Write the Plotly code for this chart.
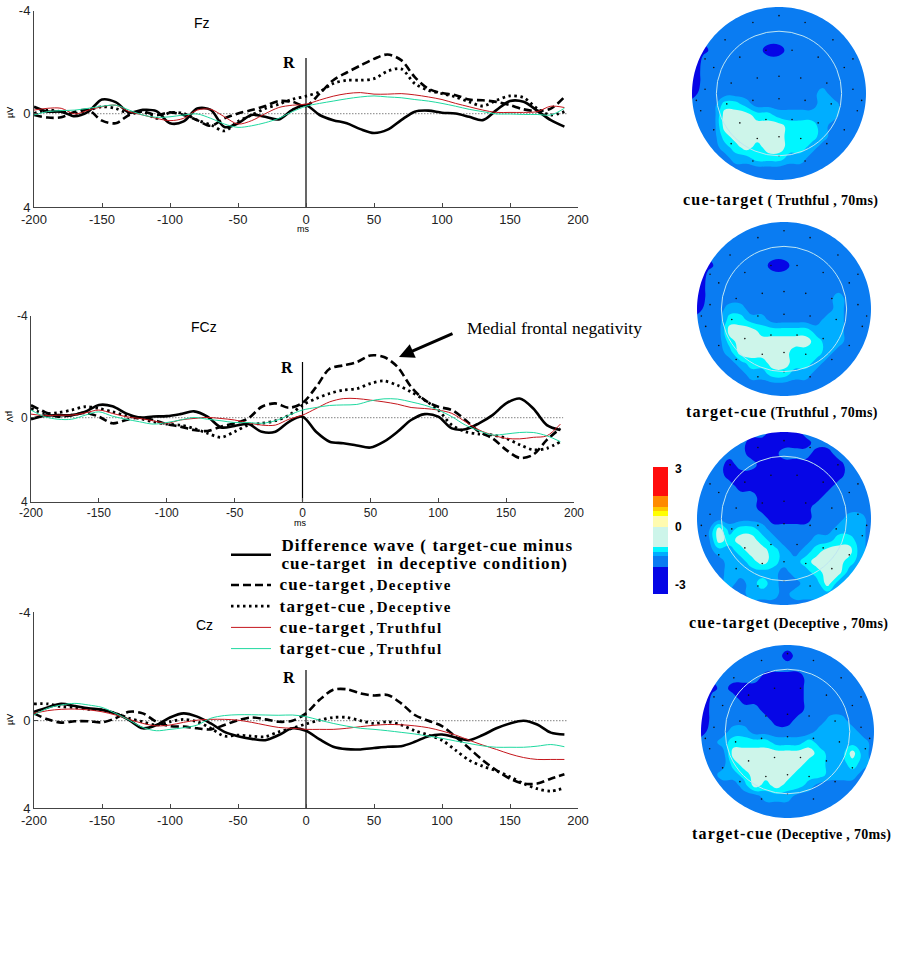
import numpy as np
import plotly.graph_objects as go

W, H = 920, 961
ms = list(range(-200, 200, 10))
x_ticks = [-200, -150, -100, -50, 0, 50, 100, 150, 200]
x_labels = ["-200", "-150", "-100", "-50", "0", "50", "100", "150", "200"]

# Fz
fz_diff = [-.27,-.08,-.08,.10,-.08,-.55,-.45,-.04,-.15,-.10,.37,.30,-.20,-.15,.52,.37,.05,.12,.22,-.15,-.33,.05,.25,.37,.60,.75,.62,.25,-.08,-.12,-.04,-.01,.12,.25,-.14,-.49,-.46,-.12,.25,.50]
fz_ct_dec = [.05,.15,.14,-.08,-.14,.27,.37,.05,-.08,.05,-.05,.05,.25,.47,.18,-.01,-.14,-.30,-.49,-.46,-.30,-.78,-1.30,-1.60,-1.87,-2.13,-2.30,-2.08,-1.42,-.97,-.80,-.72,-.55,-.52,-.46,-.33,-.17,-.10,-.20,-.65]
fz_tc_dec = [-.01,-.14,-.08,-.01,-.14,-.27,-.20,-.01,-.08,.18,-.04,-.01,.25,.43,.67,.30,.05,-.20,-.37,-.56,-.68,-.85,-1.17,-1.30,-1.30,-1.36,-1.65,-1.74,-1.17,-.91,-.78,-.65,-.46,-.30,-.52,-.69,-.62,-.20,.05,-.08]
fz_ct_tru = [-.14,-.21,-.21,.01,-.14,-.27,-.33,-.08,.05,.18,.27,.18,-.14,-.17,.12,.40,.27,0,-.24,-.33,-.37,-.53,-.68,-.78,-.82,-.76,-.76,-.78,-.73,-.65,-.55,-.40,-.27,-.14,-.05,-.05,-.05,-.08,-.29,-.24]
fz_tc_tru = [.05,-.08,-.12,-.14,-.21,-.29,-.33,-.14,.05,.14,.12,.05,.01,.18,.40,.53,.47,.35,.18,-.08,-.29,-.40,-.49,-.58,-.65,-.69,-.65,-.62,-.55,-.49,-.40,-.29,-.17,-.08,.01,.01,.03,.03,.05,-.21]
# FCz
fcz_diff = [.06,-.08,-.10,-.10,-.23,-.50,-.45,-.17,-.01,-.05,-.06,-.14,-.25,-.04,.38,.32,.25,.55,.55,.16,-.04,.55,.94,1.0,1.09,1.17,.94,.55,.09,-.14,-.04,.42,.45,.22,-.10,-.56,-.75,-.36,.29,.48]
fcz_ct_dec = [-.49,-.23,-.04,-.10,-.19,-.04,.22,.09,-.01,.09,.25,.35,.48,.52,.35,.22,.03,-.43,-.56,-.39,-.58,-1.20,-1.92,-2.05,-2.18,-2.44,-2.38,-1.99,-1.21,-.69,-.43,-.30,.09,.55,.81,1.26,1.58,1.45,.87,.42]
fcz_tc_dec = [-.36,-.17,-.20,-.30,-.43,-.36,-.23,-.08,.03,.16,.25,.29,.42,.61,.77,.55,.29,.22,.12,-.10,-.49,-.75,-.95,-1.08,-1.14,-1.34,-1.44,-1.27,-1.01,-.69,-.30,.29,.55,.64,.68,.81,1.06,1.26,1.20,.94]
fcz_ct_tru = [-.14,-.08,-.10,-.10,-.19,-.30,-.17,-.04,.03,.12,.22,.09,.03,-.01,.03,.09,.20,.29,.29,.06,-.10,-.36,-.62,-.75,-.75,-.69,-.62,-.53,-.40,-.36,-.30,-.17,.16,.48,.68,.81,.83,.77,.71,.25]
fcz_tc_tru = [-.30,-.04,.06,.06,-.10,-.23,-.06,.06,.16,.25,.19,.09,-.01,.06,.12,.19,.19,.22,.12,-.10,-.30,-.40,-.48,-.50,-.52,-.66,-.74,-.73,-.62,-.49,-.30,-.04,.29,.51,.68,.64,.58,.58,.71,.94]
# Cz
cz_diff = [-.33,-.49,-.62,-.54,-.46,-.40,-.27,-.02,.28,.16,-.12,-.27,-.15,.10,.41,.57,.67,.72,.53,.28,.37,.69,.96,1.05,1.06,1.01,.96,.94,.78,.57,.51,.62,.72,.53,.28,.10,0,.14,.44,.51]
cz_ct_dec = [-.27,-.05,.07,.02,.02,.06,-.09,-.33,-.27,.04,.20,.22,.28,.32,.16,-.02,-.12,-.05,.04,0,-.27,-.77,-1.14,-1.16,-1.01,-.93,-.95,-.64,-.21,0,.20,.59,1.02,1.46,1.83,2.14,2.32,2.32,2.14,1.98]
cz_tc_dec = [-.62,-.62,-.52,-.49,-.42,-.40,-.27,-.09,.04,.16,.04,-.05,.04,.28,.57,.53,.57,.59,.41,.28,.12,-.02,-.12,-.12,0,.10,.04,.16,.37,.53,.72,1.09,1.46,1.68,1.85,2.07,2.32,2.51,2.60,2.48]
cz_ct_tru = [-.27,-.37,-.42,-.43,-.40,-.33,-.21,-.05,.10,.19,.16,.06,-.02,-.05,-.05,-.02,.06,.16,.25,.28,.32,.32,.32,.28,.22,.17,.14,.15,.19,.26,.38,.53,.72,.90,1.06,1.23,1.36,1.43,1.43,1.43]
cz_tc_tru = [-.21,-.46,-.58,-.64,-.58,-.49,-.27,-.02,.25,.37,.32,.26,.16,-.09,-.19,-.22,-.22,-.21,-.20,-.21,-.15,-.02,.10,.20,.28,.32,.37,.43,.49,.57,.65,.75,.84,.93,.98,.98,.98,.94,.88,.96]

# scalp maps: each character is the level of one sample on a 17x17 scalp grid
# (a, b: deepest levels at the rim; 0-4: dark blue to pale)
level_value = {"a": -2, "b": -1, "0": 0, "1": 1, "2": 2, "3": 3, "4": 4}
map_ct_tru = ["11111111111111111","11111111111111111","11111111111111211","11111111111111121",
 "10111110011111111","a1111111111111111","b1111111111111111","b1111111111111111",
 "01111111111121111","11133211111122111","11144433222222111","11144444433321111",
 "11134444433321111","11123434433211111","11112233322111111","11111111111111111","11111111111111111"]
map_tc_tru = ["11111111111111111","11111111111111111","11111111111111211","11111111111111121",
 "10111110011111111","a1111111111111111","b1111111111111111","b1111111111112111",
 "01122111111112111","11133221111122111","11144433333222111","11134444444322111",
 "11124444433321111","11112334433211111","11111223322111111","11111111111111111","11111111111111111"]
map_ct_dec = ["11111110001111111","11111000000111111","11111000111001111","11101100000000111",
 "11100000000000111","11110000000001111","11111100000011111","11111100000111111",
 "11111110000111221","11423321111112221","11434432111223321","11223443212344421",
 "11122343223444321","11122222122344211","11121232112242111","11111222122221111","11111111111111111"]
map_tc_dec = ["11111111111111111","11111111011111111","11111111111111111","11111100001111111",
 "10100000001111111","a1110000001111111","b1111100001111111","b1111110011122111",
 "01122111111222211","11233332223222221","11144444444322421","11134444443322321",
 "11223444433322211","11112434332111111","11111122211111111","11111111111111111","11111111111111111"]
grid_pos = [-1,-.875,-.75,-.625,-.5,-.375,-.25,-.125,0,.125,.25,.375,.5,.625,.75,.875,1]

# colour scale: band edges (µV, from the -3 end up) and their colours
band_edges = [-3.48, -2.1, -1.5, -1.29, -1.03, 0, .52, .81, 1.03, 1.59, 3.07]
band_cols = ["#0606e6", "#0a7cf2", "#00aeff", "#00f6ff", "#cdf5ea", "#fffbb0", "#ffff00", "#ffc800", "#ff8a00", "#ff0c0c"]

# electrode dots, in scalp units
elec_x = [-.62,-.3,0,.3,.62,-.75,-.45,-.15,.15,.45,.75,-.85,-.55,-.25,0,.25,.55,.85,-.9,-.6,-.3,0,.3,.6,.9,-.75,-.45,-.15,.15,.45,.75,-.55,-.25,0,.25,.55,-.3,0,.3,-.95,.95,-.85,.85]
elec_y = [-.62,-.82,-.9,-.82,-.62,-.3,-.42,-.5,-.5,-.42,-.3,-.05,-.12,-.18,-.2,-.18,-.12,-.05,.2,.12,.08,.06,.08,.12,.2,.42,.34,.3,.3,.34,.42,.58,.52,.5,.52,.58,.78,.72,.78,.08,.08,-.4,-.4]

# scale of each waveform panel: px of left, right, top (-4), zero, bottom
panels = [
    dict(name="Fz", l=34, r=578, t=10.7, z=113.7, b=207, rtop=58, tick=13,
         data=[fz_diff, fz_ct_dec, fz_tc_dec, fz_ct_tru, fz_tc_tru]),
    dict(name="FCz", l=31, r=574, t=315.7, z=417.7, b=501.7, rtop=362, tick=12,
         data=[fcz_diff, fcz_ct_dec, fcz_tc_dec, fcz_ct_tru, fcz_tc_tru]),
    dict(name="Cz", l=34, r=578, t=612.3, z=720.7, b=808, rtop=670, tick=13,
         data=[cz_diff, cz_ct_dec, cz_tc_dec, cz_ct_tru, cz_tc_tru]),
]
# px box of each scalp map
maps = [
    dict(z=map_ct_tru, l=692, r=866, t=7, b=180),
    dict(z=map_tc_tru, l=697, r=871, t=222, b=396),
    dict(z=map_ct_dec, l=697, r=871, t=432, b=605),
    dict(z=map_tc_dec, l=701, r=874, t=645, b=818),
]
ring = 0.72


def px(x):
    return x / W


def py(y):
    return 1 - y / H


def leg(a, b):
    return (f'<b>&nbsp;<span style="font-size:17px;letter-spacing:1.3px">{a}</span> , '
            f'<span style="font-size:15px;letter-spacing:1.4px">{b}</span></b>')


styles = [
    dict(name='<b><span style="font-size:17px;letter-spacing:1.15px">&nbsp;Difference wave ( target-cue minus<br>'
              '&nbsp;cue-target  in deceptive condition)</span></b>',
         line=dict(color="black", width=2.6)),
    dict(name=leg("cue-target", "Deceptive"), line=dict(color="black", width=2.6, dash="8px,4px")),
    dict(name=leg("target-cue", "Deceptive"), line=dict(color="black", width=2.8, dash="2.5px,3.5px")),
    dict(name=leg("cue-target", "Truthful"), line=dict(color="#c4161c", width=1)),
    dict(name=leg("target-cue", "Truthful"), line=dict(color="#1fd9a0", width=1)),
]

fig = go.Figure()
layout = {}
shapes = []
annotations = []

for i, p in enumerate(panels):
    n = "" if i == 0 else str(i + 1)
    unit = (p["z"] - p["t"]) / 4
    bottom = (p["b"] - p["z"]) / unit
    layout[f"xaxis{n}"] = dict(domain=[px(p["l"]), px(p["r"])], range=[-200, 200], anchor=f"y{n}",
                               tickvals=x_ticks, ticktext=x_labels, ticks="inside", ticklen=4, tickcolor="#444",
                               showline=True, linecolor="#444", linewidth=1, showgrid=False, zeroline=False,
                               tickfont=dict(family="Liberation Sans", size=p["tick"], color="#222"))
    layout[f"yaxis{n}"] = dict(domain=[py(p["b"]), py(p["t"])], range=[bottom, -4], anchor=f"x{n}",
                               tickvals=[-4, 0, bottom], ticktext=["-4", "0", "4"], ticks="inside", ticklen=4,
                               tickcolor="#444", showline=True, linecolor="#444", linewidth=1, showgrid=False,
                               zeroline=False, tickfont=dict(family="Liberation Sans", size=p["tick"], color="#222"))
    fig.add_trace(go.Scatter(x=[-200, 192], y=[0, 0], mode="lines", showlegend=False, hoverinfo="skip",
                             line=dict(color="#9a9a9a", width=1.2, dash="1.5px,1.5px"), xaxis=f"x{n}", yaxis=f"y{n}"))
    rv = (p["rtop"] - p["z"]) / unit
    fig.add_trace(go.Scatter(x=[0, 0], y=[rv, bottom], mode="lines", showlegend=False, hoverinfo="skip",
                             line=dict(color="black", width=1.2), xaxis=f"x{n}", yaxis=f"y{n}"))
    for s, vals in zip(styles, p["data"]):
        fig.add_trace(go.Scatter(x=ms, y=vals, mode="lines", name=s["name"], legendgroup=str(styles.index(s)),
                                 showlegend=(i == 0), line=dict(shape="spline", smoothing=0.9, **s["line"]),
                                 xaxis=f"x{n}", yaxis=f"y{n}"))

# five bands of the scalp maps use the first five colours of the scale
map_scale = []
for b in range(5):
    map_scale += [[b / 5, band_cols[b]], [(b + 1) / 5, band_cols[b]]]

theta = np.linspace(0, 2 * np.pi, 181)
hole = " ".join(("M" if k == 0 else "L") + f"{np.cos(t):.4f},{np.sin(t):.4f}" for k, t in enumerate(theta)) + " Z"
for j, m in enumerate(maps):
    k = 4 + j
    layout[f"xaxis{k}"] = dict(domain=[px(m["l"]), px(m["r"])], range=[-1, 1], visible=False, anchor=f"y{k}")
    layout[f"yaxis{k}"] = dict(domain=[py(m["b"]), py(m["t"])], range=[1, -1], visible=False, anchor=f"x{k}")
    z = [[level_value[c] for c in row] for row in m["z"]]
    fig.add_trace(go.Contour(x=grid_pos, y=grid_pos, z=z, zmin=-.5, zmax=4.5, zauto=False, autocontour=False,
                             colorscale=map_scale, showscale=False, hoverinfo="skip",
                             contours=dict(coloring="fill", start=.5, end=3.5, size=1),
                             line=dict(width=0, smoothing=1.3), xaxis=f"x{k}", yaxis=f"y{k}"))
    fig.add_trace(go.Scatter(x=elec_x, y=elec_y, mode="markers", showlegend=False, hoverinfo="skip",
                             marker=dict(color="#101010", size=1.6), xaxis=f"x{k}", yaxis=f"y{k}"))
    shapes.append(dict(type="path", xref=f"x{k}", yref=f"y{k}", layer="above", fillcolor="white",
                       line=dict(width=0), path="M-1.06,-1.06 L1.06,-1.06 L1.06,1.06 L-1.06,1.06 Z " + hole))
    shapes.append(dict(type="circle", xref=f"x{k}", yref=f"y{k}", x0=-ring, x1=ring, y0=-ring, y1=ring,
                       layer="above", line=dict(color="#bfe6f2", width=1)))

# colour scale bar, drawn as its own small axes
layout["xaxis8"] = dict(domain=[px(653), px(668)], range=[0, 1], visible=False, anchor="y8")
layout["yaxis8"] = dict(domain=[py(594), py(467)], range=[band_edges[0], band_edges[-1]], anchor="x8", side="right",
                        tickvals=[-3, 0, 3], ticktext=["-3", "0", "3"], ticks="", showline=False, showgrid=False,
                        zeroline=False, ticklabelstandoff=6,
                        tickfont=dict(family="Liberation Sans", size=12, color="black", weight="bold"))
band_mid = [[(a + b) / 2] for a, b in zip(band_edges[:-1], band_edges[1:])]
scale_z0, scale_z1 = band_edges[0], band_edges[-1]
bar_scale = []
for a, b, col in zip(band_edges[:-1], band_edges[1:], band_cols):
    bar_scale += [[(a - scale_z0) / (scale_z1 - scale_z0), col], [(b - scale_z0) / (scale_z1 - scale_z0), col]]
fig.add_trace(go.Heatmap(x=[0, 1], y=band_edges, z=band_mid, zmin=scale_z0, zmax=scale_z1, colorscale=bar_scale,
                         showscale=False, hoverinfo="skip", xaxis="x8", yaxis="y8"))


def text(x, y, s, size, family="Liberation Sans", color="black", angle=0, xanchor="center"):
    annotations.append(dict(x=px(x), y=py(y), xref="paper", yref="paper", text=s, showarrow=False,
                            xanchor=xanchor, yanchor="middle", textangle=angle,
                            font=dict(family=family, size=size, color=color)))


SERIF = "Liberation Serif"
text(202, 23, "Fz", 14)
text(204, 327, "FCz", 14)
text(204, 625, "Cz", 14)
text(289, 63, "<b>R</b>", 16, SERIF)
text(287, 367, "<b>R</b>", 16, SERIF)
text(289, 677, "<b>R</b>", 16, SERIF)
text(10, 113, "µV", 9, angle=-90)
text(10, 416, "µV", 9, angle=90)
text(10, 720, "µV", 9, angle=-90)
text(303, 229, "ms", 9)
text(300, 523, "ms", 9)
text(465, 328, "Medial frontal negativity", 17.5, SERIF, xanchor="left")


def caption(a, b):
    return (f'<b><span style="font-size:16px;letter-spacing:1.2px">{a}</span> '
            f'<span style="font-size:14px;letter-spacing:.3px">{b}</span></b>')


text(780, 200, caption("cue-target", "( Truthful , 70ms)"), 13, SERIF)
text(782, 412, caption("target-cue", "(Truthful , 70ms)"), 13, SERIF)
text(788, 623, caption("cue-target", "(Deceptive , 70ms)"), 13, SERIF)
text(791, 834, caption("target-cue", "(Deceptive , 70ms)"), 13, SERIF)

annotations.append(dict(x=px(399), y=py(357), xref="paper", yref="paper", ax=55, ay=-24, text="",
                        showarrow=True, arrowhead=2, arrowsize=1, arrowwidth=3, arrowcolor="black"))

fig.update_layout(
    width=W, height=H, autosize=False, margin=dict(l=0, r=0, t=0, b=0, autoexpand=False),
    paper_bgcolor="white", plot_bgcolor="rgba(0,0,0,0)",
    legend=dict(x=px(226), y=py(530), xanchor="left", yanchor="top", bgcolor="rgba(0,0,0,0)",
                itemwidth=40, tracegroupgap=0, font=dict(family=SERIF, size=14, color="black"),
                itemclick=False, itemdoubleclick=False),
    shapes=shapes, annotations=annotations, **layout,
)
fig.write_html("out.html", config=dict(displayModeBar=False),
               post_script="document.body.style.margin='0';document.body.style.overflow='hidden';")
